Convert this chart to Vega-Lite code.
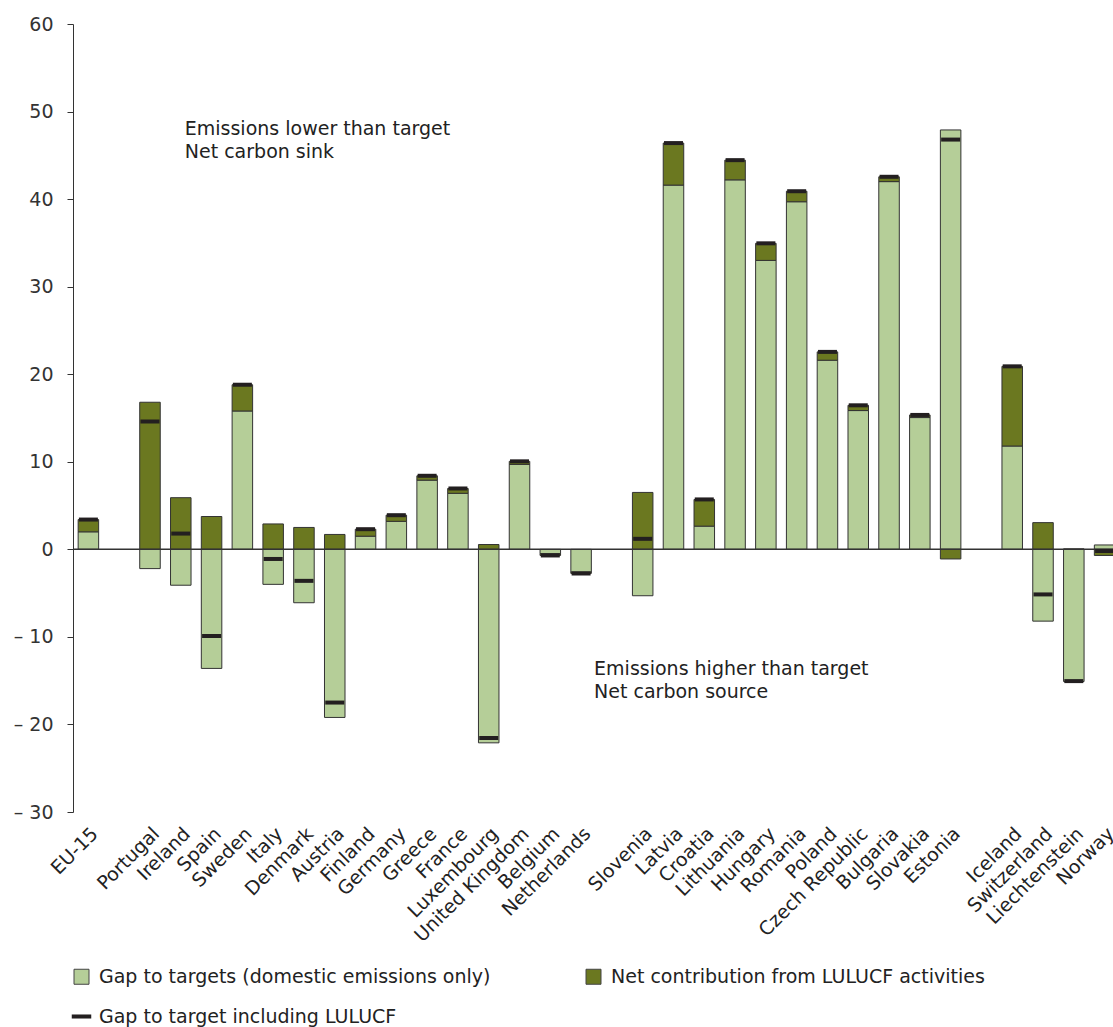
{
  "$schema": "https://vega.github.io/schema/vega-lite/v6.json",
  "autosize": {"type": "none"},
  "padding": {"left": 73, "top": 24, "right": 0, "bottom": 215},
  "width": 1040,
  "height": 788,
  "background": "white",
  "config": {
    "font": "DejaVu Sans",
    "view": {"stroke": null},
    "text": {"font": "DejaVu Sans"}
  },
  "data": {
    "values": [
      {"country": "EU-15", "domestic": 2.0, "lulucf": 1.4, "total": 3.4},
      {"country": "Portugal", "domestic": -2.2, "lulucf": 16.8, "total": 14.6},
      {"country": "Ireland", "domestic": -4.1, "lulucf": 5.9, "total": 1.8},
      {"country": "Spain", "domestic": -13.6, "lulucf": 3.75, "total": -9.9},
      {"country": "Sweden", "domestic": 15.8, "lulucf": 3.0, "total": 18.8},
      {"country": "Italy", "domestic": -4.0, "lulucf": 2.9, "total": -1.1},
      {"country": "Denmark", "domestic": -6.1, "lulucf": 2.5, "total": -3.6},
      {"country": "Austria", "domestic": -19.2, "lulucf": 1.7, "total": -17.5},
      {"country": "Finland", "domestic": 1.5, "lulucf": 0.8, "total": 2.3},
      {"country": "Germany", "domestic": 3.2, "lulucf": 0.7, "total": 3.9},
      {"country": "Greece", "domestic": 7.9, "lulucf": 0.5, "total": 8.4},
      {"country": "France", "domestic": 6.4, "lulucf": 0.55, "total": 6.95},
      {"country": "Luxembourg", "domestic": -22.1, "lulucf": 0.55, "total": -21.55},
      {"country": "United Kingdom", "domestic": 9.7, "lulucf": 0.35, "total": 10.05},
      {"country": "Belgium", "domestic": -0.5, "lulucf": -0.2, "total": -0.7},
      {"country": "Netherlands", "domestic": -2.6, "lulucf": -0.15, "total": -2.75},
      {"country": "Slovenia", "domestic": -5.3, "lulucf": 6.5, "total": 1.2},
      {"country": "Latvia", "domestic": 41.6, "lulucf": 4.8, "total": 46.4},
      {"country": "Croatia", "domestic": 2.65, "lulucf": 3.05, "total": 5.7},
      {"country": "Lithuania", "domestic": 42.2, "lulucf": 2.25, "total": 44.45},
      {"country": "Hungary", "domestic": 33.0, "lulucf": 1.95, "total": 34.95},
      {"country": "Romania", "domestic": 39.7, "lulucf": 1.2, "total": 40.9},
      {"country": "Poland", "domestic": 21.6, "lulucf": 0.95, "total": 22.55},
      {"country": "Czech Republic", "domestic": 15.85, "lulucf": 0.6, "total": 16.45},
      {"country": "Bulgaria", "domestic": 42.0, "lulucf": 0.55, "total": 42.55},
      {"country": "Slovakia", "domestic": 15.05, "lulucf": 0.3, "total": 15.35},
      {"country": "Estonia", "domestic": 47.9, "lulucf": -1.1, "total": 46.8},
      {"country": "Iceland", "domestic": 11.8, "lulucf": 9.1, "total": 20.9},
      {"country": "Switzerland", "domestic": -8.2, "lulucf": 3.05, "total": -5.15},
      {"country": "Liechtenstein", "domestic": -15.1, "lulucf": 0.05, "total": -15.05},
      {"country": "Norway", "domestic": 0.5, "lulucf": -0.7, "total": -0.2}
    ]
  },
  "encoding": {
    "x": {
      "field": "country",
      "type": "nominal",
      "sort": null,
      "title": null,
      "scale": {
        "type": "band",
        "domain": ["EU-15", " ", "Portugal", "Ireland", "Spain", "Sweden", "Italy", "Denmark", "Austria", "Finland", "Germany", "Greece", "France", "Luxembourg", "United Kingdom", "Belgium", "Netherlands", "  ", "Slovenia", "Latvia", "Croatia", "Lithuania", "Hungary", "Romania", "Poland", "Czech Republic", "Bulgaria", "Slovakia", "Estonia", "   ", "Iceland", "Switzerland", "Liechtenstein", "Norway"],
        "range": [0, 1047],
        "paddingInner": 0.334,
        "paddingOuter": 0.167
      },
      "axis": {
        "orient": "bottom",
        "domain": false,
        "ticks": false,
        "labelAngle": -45,
        "labelAlign": "right",
        "labelBaseline": "top",
        "labelPadding": 12,
        "labelFontSize": 19,
        "labelColor": "#222222",
        "labelOverlap": false,
        "labelBound": false,
        "labelLimit": 0
      }
    }
  },
  "layer": [
    {
      "transform": [{"fold": ["domestic", "lulucf"], "as": ["part", "value"]}],
      "mark": {"type": "bar", "stroke": "#333333", "strokeWidth": 1},
      "encoding": {
        "y": {
          "field": "value",
          "type": "quantitative",
          "stack": "zero",
          "title": null,
          "scale": {"domain": [-30, 60], "nice": false, "zero": false},
          "axis": {
            "values": [-30, -20, -10, 0, 10, 20, 30, 40, 50, 60],
            "labelExpr": "datum.value < 0 ? '– ' + abs(datum.value) : '' + datum.value",
            "grid": false,
            "domainColor": "#333333",
            "tickColor": "#333333",
            "tickSize": 6,
            "labelPadding": 14,
            "labelFontSize": 19,
            "labelColor": "#333333"
          }
        },
        "color": {
          "field": "part",
          "type": "nominal",
          "scale": {
            "domain": ["domestic", "lulucf", "total"],
            "range": ["#b5ce98", "#6b7820", "#231f20"]
          },
          "legend": {
            "title": null,
            "orient": "none",
            "legendX": -1,
            "legendY": 943,
            "columns": 2,
            "direction": "horizontal",
            "columnPadding": 93,
            "rowPadding": 20,
            "padding": 0,
            "labelFontSize": 19,
            "labelColor": "#222222",
            "labelOffset": 8,
            "labelLimit": 0,
            "symbolSize": 225,
            "symbolStrokeColor": "#444444",
            "symbolStrokeWidth": 1,
            "labelExpr": "datum.value == 'domestic' ? 'Gap to targets (domestic emissions only)' : datum.value == 'lulucf' ? 'Net contribution from LULUCF activities' : 'Gap to target including LULUCF'",
            "encode": {
              "symbols": {
                "update": {
                  "shape": {"signal": "datum.value == 'total' ? 'M-1.3,-0.27H1.3V0.27H-1.3Z' : 'square'"},
                  "strokeWidth": {"signal": "datum.value == 'total' ? 0 : 1"}
                }
              }
            }
          }
        },
        "order": {"field": "part", "sort": "ascending"}
      }
    },
    {
      "data": {"values": [{}]},
      "mark": {"type": "rule", "color": "#333333", "strokeWidth": 1.5},
      "encoding": {"y": {"datum": 0}, "x": null}
    },
    {
      "mark": {"type": "tick", "color": "#231f20", "opacity": 1, "thickness": 4, "size": 19},
      "encoding": {
        "y": {"field": "total", "type": "quantitative"}
      }
    },
    {
      "data": {"values": [{}]},
      "mark": {"type": "text", "align": "left", "baseline": "alphabetic", "dx": 4, "fontSize": 19, "lineHeight": 23, "color": "#222222"},
      "encoding": {
        "x": {"datum": "Ireland"},
        "y": {"datum": 47.3},
        "text": {"value": ["Emissions lower than target", "Net carbon sink"]}
      }
    },
    {
      "data": {"values": [{}]},
      "mark": {"type": "text", "align": "left", "baseline": "alphabetic", "dx": 13, "fontSize": 19, "lineHeight": 23, "color": "#222222"},
      "encoding": {
        "x": {"datum": "Netherlands"},
        "y": {"datum": -14.3},
        "text": {"value": ["Emissions higher than target", "Net carbon source"]}
      }
    }
  ]
}
